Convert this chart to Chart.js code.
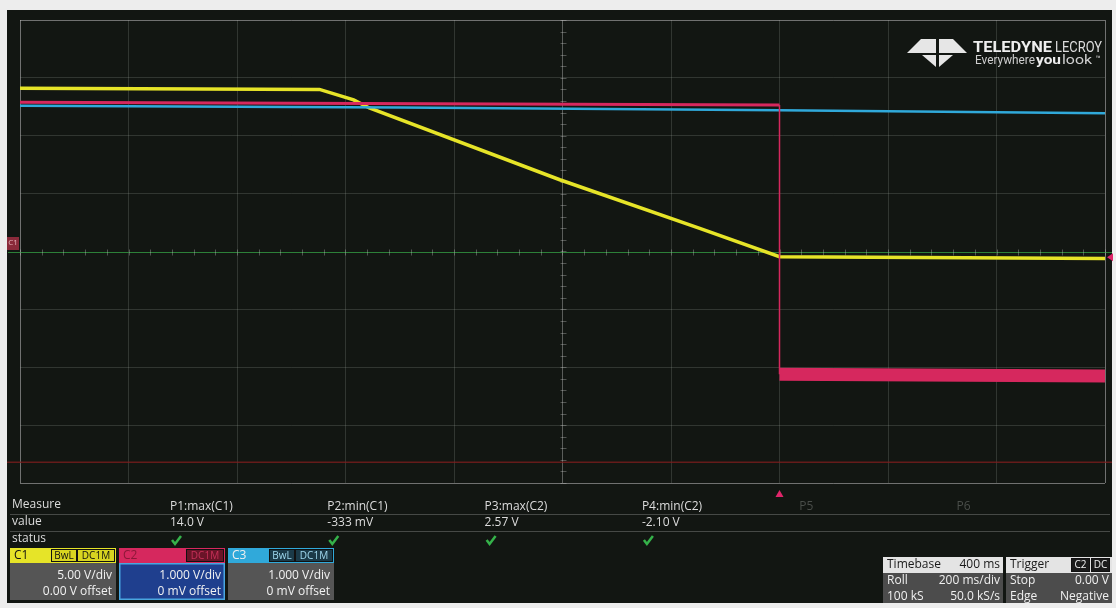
<!DOCTYPE html>
<html>
<head>
<meta charset="utf-8">
<script src="https://cdn.jsdelivr.net/npm/chart.js@4.4.1/dist/chart.umd.min.js"></script>
<style>
html, body { margin: 0; padding: 0; background: #ededed; }
canvas { display: block; }
</style>
</head>
<body>
<canvas id="scope" width="1116" height="608"></canvas>
<script>
// Eixo do tempo em ms, trigger em 0 (200 ms/div, 10 div)
const timeMin = -1400;
const timeMax = 600;
const timeStep = 200;

// C1 amarelo, 5 V/div
const c1Time  = [-1400, -848, -785, -756, -405, -147, 0, 600];
const c1Volts = [14.1, 14.0, 13.1, 12.4, 6.2, 2.0, -0.45, -0.6];

// C2 vermelho, 1 V/div (degrau no trigger)
const c2Time  = [-1400, 0, 0, 600];
const c2Volts = [2.58, 2.53, -2.12, -2.15];

// C3 ciano, 1 V/div
const c3Time  = [-1400, -700, 0, 600];
const c3Volts = [2.52, 2.49, 2.44, 2.39];

// Tabela de medidas
const measureNames  = ['P1:max(C1)', 'P2:min(C1)', 'P3:max(C2)', 'P4:min(C2)', 'P5', 'P6'];
const measureValues = ['14.0 V', '-333 mV', '2.57 V', '-2.10 V', '', ''];
const measureOk     = [true, true, true, true, false, false];

// Descritores dos canais
const channelNames   = ['C1', 'C2', 'C3'];
const channelScale   = ['5.00 V/div', '1.000 V/div', '1.000 V/div'];
const channelOffset  = ['0.00 V offset', '0 mV offset', '0 mV offset'];
const channelTags    = [['BwL', 'DC1M'], ['DC1M'], ['BwL', 'DC1M']];

// Timebase / trigger
const timebaseRows = [['Timebase', '400 ms'], ['Roll', '200 ms/div'], ['100 kS', '50.0 kS/s']];
const triggerRows  = [['Trigger', ''], ['Stop', '0.00 V'], ['Edge', 'Negative']];

const yellow = '#e6e428';
const red = '#d6285e';
const cyan = '#30a9da';
const uiFont = '"Open Sans", "DejaVu Sans", sans-serif';

function pts(xs, ys) {
    return xs.map((x, i) => ({ x: x, y: ys[i] }));
}

function txt(ctx, s, x, y, color, size, align, weight) {
    ctx.save();
    ctx.font = (weight || 'normal') + ' ' + size + 'px ' + uiFont;
    ctx.fillStyle = color;
    ctx.textAlign = align || 'left';
    ctx.textBaseline = 'middle';
    ctx.fillText(s, x, y);
    ctx.restore();
}

function fitText(ctx, s, x, y, w, font, color) {
    ctx.save();
    ctx.font = font;
    ctx.fillStyle = color;
    ctx.textBaseline = 'alphabetic';
    const m = ctx.measureText(s).width;
    ctx.translate(x, y);
    ctx.scale(w / m, 1);
    ctx.fillText(s, 0, 0);
    ctx.restore();
}

function tagBox(ctx, s, x, y, w, h, fill, color) {
    ctx.fillStyle = fill;
    ctx.fillRect(x, y, w, h);
    ctx.strokeStyle = '#111';
    ctx.lineWidth = 1;
    ctx.strokeRect(x + 0.5, y + 0.5, w - 1, h - 1);
    txt(ctx, s, x + w / 2, y + h / 2 + 0.5, color, 10, 'center');
}

function check(ctx, x, y) {
    ctx.save();
    ctx.strokeStyle = '#35b24a';
    ctx.lineWidth = 2.5;
    ctx.beginPath();
    ctx.moveTo(x, y);
    ctx.lineTo(x + 3, y + 4);
    ctx.lineTo(x + 9, y - 4);
    ctx.stroke();
    ctx.restore();
}

// Fundo do ecrã, linhas centrais e marcadores
const scopePlugin = {
    id: 'scopePlugin',
    beforeDraw(chart) {
        const ctx = chart.ctx;
        ctx.save();
        ctx.fillStyle = '#ededed';
        ctx.fillRect(0, 0, chart.width, chart.height);
        ctx.fillStyle = '#121612';
        ctx.fillRect(7, 10, 1105, 593);
        ctx.restore();
    },
    beforeDatasetsDraw(chart) {
        const ctx = chart.ctx;
        const xs = chart.scales.x;
        const ys = chart.scales.y;
        const a = chart.chartArea;
        const cx = Math.round(xs.getPixelForValue(-400)) + 0.5;
        const cy = Math.round(ys.getPixelForValue(0)) + 0.5;
        const divX = xs.getPixelForValue(timeMin + timeStep) - xs.getPixelForValue(timeMin);
        const divY = ys.getPixelForValue(0) - ys.getPixelForValue(5);
        ctx.save();
        // linha vermelha esbatida perto do fundo
        ctx.strokeStyle = 'rgba(130,30,30,0.75)';
        ctx.lineWidth = 1.5;
        ctx.beginPath();
        ctx.moveTo(7, ys.getPixelForValue(-18.2));
        ctx.lineTo(1112, ys.getPixelForValue(-18.2));
        ctx.stroke();
        // eixo central horizontal verde
        ctx.strokeStyle = '#2c8038';
        ctx.lineWidth = 1;
        ctx.beginPath();
        ctx.moveTo(8, cy);
        ctx.lineTo(1112, cy);
        ctx.stroke();
        // marcas menores nos eixos centrais
        ctx.strokeStyle = 'rgba(200,200,200,0.35)';
        ctx.beginPath();
        for (let p = a.left; p <= a.right + 0.5; p += divX / 5) {
            ctx.moveTo(Math.round(p) + 0.5, cy - 3);
            ctx.lineTo(Math.round(p) + 0.5, cy + 3);
        }
        for (let p = a.top; p <= a.bottom + 0.5; p += divY / 5) {
            ctx.moveTo(cx - 3, Math.round(p) + 0.5);
            ctx.lineTo(cx + 3, Math.round(p) + 0.5);
        }
        ctx.stroke();
        ctx.restore();
    },
    afterDraw(chart) {
        const ctx = chart.ctx;
        const xs = chart.scales.x;
        const trigX = xs.getPixelForValue(0);
        ctx.save();

        // marcador do trigger (baixo)
        ctx.fillStyle = '#e0266a';
        ctx.beginPath();
        ctx.moveTo(trigX, 490);
        ctx.lineTo(trigX - 4, 497);
        ctx.lineTo(trigX + 4, 497);
        ctx.closePath();
        ctx.fill();
        // marcador do nível de trigger (direita)
        const lvl = chart.scales.y2.getPixelForValue(-0.1);
        ctx.beginPath();
        ctx.moveTo(1107, lvl);
        ctx.lineTo(1113, lvl - 4);
        ctx.lineTo(1113, lvl + 4);
        ctx.closePath();
        ctx.fill();
        // marcador C1 (esquerda)
        ctx.fillStyle = '#8a2a3a';
        ctx.fillRect(7, 237, 12, 13);
        txt(ctx, 'C1', 13, 243, '#e6b0b8', 8, 'center');

        // tabela de medidas
        ctx.strokeStyle = 'rgba(150,150,150,0.4)';
        ctx.lineWidth = 1;
        ctx.beginPath();
        ctx.moveTo(10, 514.5); ctx.lineTo(1110, 514.5);
        ctx.moveTo(10, 531.5); ctx.lineTo(1110, 531.5);
        ctx.stroke();
        txt(ctx, 'Measure', 12, 505, '#dcdcdc', 12);
        txt(ctx, 'value', 12, 522, '#dcdcdc', 12);
        txt(ctx, 'status', 12, 539, '#dcdcdc', 12);
        measureNames.forEach((n, i) => {
            const x = 170 + i * 157.3;
            const done = measureOk[i];
            txt(ctx, n, x, 507, done ? '#dcdcdc' : '#4a4e4a', 12);
            if (measureValues[i]) txt(ctx, measureValues[i], x, 523, '#dcdcdc', 12);
            if (done) check(ctx, x + 2, 540);
        });

        // descritores dos canais
        const heads = [yellow, red, cyan];
        const bodies = ['#555555', '#1f3f8e', '#555555'];
        channelNames.forEach((n, i) => {
            const x = 10 + i * 109;
            ctx.fillStyle = heads[i];
            ctx.fillRect(x, 548, 106, 15);
            ctx.fillStyle = bodies[i];
            ctx.fillRect(x, 563, 106, 37);
            if (i === 1) {
                ctx.strokeStyle = '#4aa6e0';
                ctx.lineWidth = 1.5;
                ctx.strokeRect(x + 0.75, 563.75, 104.5, 35.5);
            }
            txt(ctx, n, x + 4, 556, i === 0 ? '#111' : (i === 1 ? '#8c1838' : '#f0f0f0'), 12);
            const tags = channelTags[i];
            let tx = x + 105;
            for (let k = tags.length - 1; k >= 0; k--) {
                const w = tags[k].length > 3 ? 38 : 26;
                tx -= w;
                const fill = i === 0 ? '#d8d420' : (i === 1 ? '#6a1428' : '#1b3a48');
                const col = i === 0 ? '#111' : (i === 1 ? '#c83058' : '#9fd8ee');
                tagBox(ctx, tags[k], tx, 549, w, 13, fill, col);
            }
            txt(ctx, channelScale[i], x + 102, 576, '#f2f2f2', 12, 'right');
            txt(ctx, channelOffset[i], x + 102, 592, '#f2f2f2', 12, 'right');
        });

        // timebase e trigger
        const boxes = [[883, 1003, timebaseRows], [1006, 1112, triggerRows]];
        boxes.forEach(b => {
            const x0 = b[0], x1 = b[1], rows = b[2];
            ctx.fillStyle = '#e4e4e4';
            ctx.fillRect(x0, 557, x1 - x0, 16);
            ctx.fillStyle = '#4c4c4c';
            ctx.fillRect(x0, 573, x1 - x0, 30);
            rows.forEach((r, k) => {
                const y = 565 + k * 16;
                const col = k === 0 ? '#1a1a1a' : '#f0f0f0';
                txt(ctx, r[0], x0 + 4, y, col, 12);
                if (r[1]) txt(ctx, r[1], x1 - 3, y, col, 12, 'right');
            });
        });
        tagBox(ctx, 'C2', 1071, 558, 19, 14, '#1a1a1a', '#f0f0f0');
        tagBox(ctx, 'DC', 1091, 558, 19, 14, '#1a1a1a', '#f0f0f0');

        // logotipo
        ctx.fillStyle = '#e6e6e6';
        const poly = p => {
            ctx.beginPath();
            ctx.moveTo(p[0], p[1]);
            for (let k = 2; k < p.length; k += 2) ctx.lineTo(p[k], p[k + 1]);
            ctx.closePath();
            ctx.fill();
        };
        poly([907, 53, 921, 39, 936, 39, 936, 53]);
        poly([939, 39, 953, 39, 967, 53, 939, 53]);
        poly([922, 55, 936, 55, 936, 67]);
        poly([939, 55, 953, 55, 939, 67]);
        fitText(ctx, 'TELEDYNE', 973, 52, 79, 'bold 15px Roboto, sans-serif', '#eeeeee');
        fitText(ctx, 'LECROY', 1055, 52, 47, '15px Roboto, sans-serif', '#dddddd');
        fitText(ctx, 'Everywhere', 975, 64, 60, '12px Roboto, sans-serif', '#cfcfcf');
        fitText(ctx, 'you', 1036, 64, 25, 'bold 12px Roboto, sans-serif', '#eeeeee');
        fitText(ctx, 'look', 1062, 64, 30, '12px Roboto, sans-serif', '#cfcfcf');
        txt(ctx, '™', 1096, 58, '#cfcfcf', 6);
        ctx.restore();
    }
};

const gridColor = 'rgba(160,168,160,0.22)';
const edgeColor = 'rgba(190,190,190,0.55)';

new Chart(document.getElementById('scope'), {
    type: 'line',
    data: {
        datasets: [
            {
                label: 'C2',
                data: pts(c2Time, c2Volts),
                yAxisID: 'y2',
                borderColor: red,
                borderWidth: 3,
                pointRadius: 0,
                segment: {
                    borderWidth: s => s.p0.parsed.x === s.p1.parsed.x ? 1.5 : (s.p0.parsed.y < 0 ? 13 : 3)
                }
            },
            {
                label: 'C3',
                data: pts(c3Time, c3Volts),
                yAxisID: 'y3',
                borderColor: cyan,
                borderWidth: 2.5,
                pointRadius: 0
            },
            {
                label: 'C1',
                data: pts(c1Time, c1Volts),
                yAxisID: 'y',
                borderColor: yellow,
                borderWidth: 3.5,
                pointRadius: 0
            }
        ]
    },
    options: {
        responsive: false,
        animation: false,
        devicePixelRatio: 1,
        layout: { autoPadding: false, padding: { left: 20, top: 20, right: 11, bottom: 125 } },
        plugins: { legend: { display: false }, tooltip: { enabled: false } },
        scales: {
            x: {
                type: 'linear',
                min: timeMin,
                max: timeMax,
                ticks: { display: false, stepSize: timeStep },
                border: { display: false },
                grid: {
                    drawTicks: false,
                    color: c => (c.tick.value === timeMin || c.tick.value === timeMax) ? edgeColor :
                        (c.tick.value === -400 ? 'rgba(200,200,200,0.4)' : gridColor)
                }
            },
            y: {
                min: -20,
                max: 20,
                ticks: { display: false, stepSize: 5 },
                border: { display: false },
                grid: {
                    drawTicks: false,
                    color: c => (c.tick.value === -20 || c.tick.value === 20) ? edgeColor :
                        (c.tick.value === 0 ? 'rgba(0,0,0,0)' : gridColor)
                }
            },
            y2: { display: false, min: -4, max: 4 },
            y3: { display: false, min: -4, max: 4 }
        }
    },
    plugins: [scopePlugin]
});
</script>
</body>
</html>
